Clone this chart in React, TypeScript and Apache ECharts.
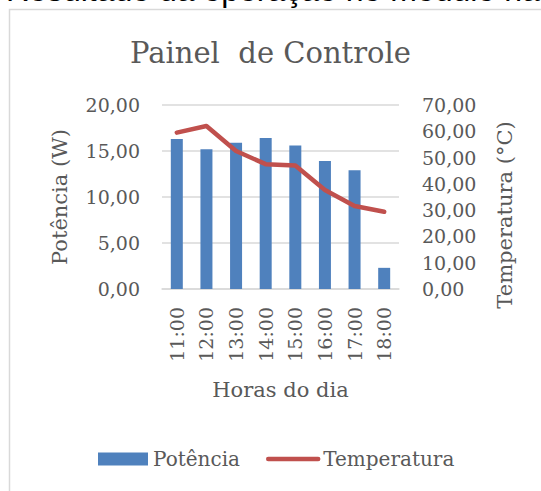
import React, { useEffect, useRef } from "react";
import * as echarts from "echarts";

const categories = ["11:00", "12:00", "13:00", "14:00", "15:00", "16:00", "17:00", "18:00"];
const potencia = [16.3, 15.2, 15.9, 16.4, 15.6, 13.9, 12.9, 2.3];
const temperatura = [59.5, 62.0, 52.5, 47.5, 47.0, 37.7, 31.6, 29.4];

const TXT = "#595959";
const SERIF = "'DejaVu Serif', 'Liberation Serif', serif";
const fmt = (v: number) => v.toFixed(2).replace(".", ",");

export default function App() {
  const ref = useRef<HTMLDivElement>(null);
  useEffect(() => {
    document.body.style.margin = "0";
    const chart = echarts.init(ref.current!, null, { renderer: "svg" });
    chart.setOption({
      animation: false,
      backgroundColor: "#ffffff",
      textStyle: { fontFamily: SERIF, color: TXT },
      title: {
        text: "Painel  de Controle",
        left: "center",
        top: 33,
        textStyle: { fontFamily: SERIF, fontSize: 29, fontWeight: "normal", color: TXT },
      },
      grid: { left: 162, right: 142, top: 105, bottom: 202, containLabel: false },
      legend: {
        bottom: 22,
        left: 98,
        padding: 0,
        itemGap: 26,
        itemWidth: 50,
        itemHeight: 13,
        textStyle: { fontFamily: SERIF, fontSize: 20, color: TXT },
        data: [
          { name: "Potência", icon: "rect" },
          {
            name: "Temperatura",
            itemStyle: { color: "rgba(0,0,0,0)", borderWidth: 0, opacity: 0 },
            lineStyle: { color: "#c0504d", width: 4.5, cap: "round" },
          },
        ],
      },
      xAxis: {
        type: "category",
        data: categories,
        name: "Horas do dia",
        nameLocation: "middle",
        nameGap: 90,
        nameTextStyle: { fontFamily: SERIF, fontSize: 21, color: TXT },
        axisLine: { lineStyle: { color: "#d9d9d9", width: 1.5 } },
        axisTick: { show: false },
        axisLabel: { rotate: 90, margin: 18, fontFamily: SERIF, fontSize: 19, color: TXT },
      },
      yAxis: [
        {
          type: "value",
          min: 0,
          max: 20,
          interval: 5,
          name: "Potência (W)",
          nameLocation: "middle",
          nameGap: 92,
          nameTextStyle: { fontFamily: SERIF, fontSize: 21, color: TXT },
          axisLine: { show: false },
          axisTick: { show: false },
          splitLine: { lineStyle: { color: "#d9d9d9", width: 1.5 } },
          axisLabel: { margin: 22, fontFamily: SERIF, fontSize: 19, color: TXT, formatter: fmt },
        },
        {
          type: "value",
          min: 0,
          max: 70,
          interval: 10,
          position: "right",
          axisLine: { show: false },
          axisTick: { show: false },
          splitLine: { show: false },
          axisLabel: { margin: 23, fontFamily: SERIF, fontSize: 19, color: TXT, formatter: fmt },
        },
      ],
      graphic: [
        {
          type: "rect",
          shape: { x: 9.5, y: 9.5, width: 600, height: 600 },
          style: { fill: "none", stroke: "#d9d9d9", lineWidth: 1.5 },
          silent: true,
          z: -1,
        },
        {
          type: "text",
          x: 6,
          y: 6,
          style: {
            text: "Resultado da operação no módulo na",
            fontFamily: "'Liberation Sans', Arial, sans-serif",
            fontSize: 32,
            fill: "#000000",
            verticalAlign: "bottom",
          },
        },
        {
          type: "text",
          x: 505,
          y: 215,
          rotation: Math.PI / 2,
          style: {
            text: "Temperatura (°C)",
            fontFamily: SERIF,
            fontSize: 21,
            fill: TXT,
            align: "center",
            verticalAlign: "middle",
          },
        },
      ],
      series: [
        {
          name: "Potência",
          type: "bar",
          data: potencia,
          barWidth: 12,
          itemStyle: { color: "#4f81bd" },
          yAxisIndex: 0,
        },
        {
          name: "Temperatura",
          type: "line",
          data: temperatura,
          yAxisIndex: 1,
          symbol: "none",
          lineStyle: { color: "#c0504d", width: 4.5, cap: "round", join: "round" },
          itemStyle: { color: "#c0504d" },
        },
      ],
    });
    return () => chart.dispose();
  }, []);
  return <div ref={ref} style={{ width: 541, height: 491 }} />;
}
